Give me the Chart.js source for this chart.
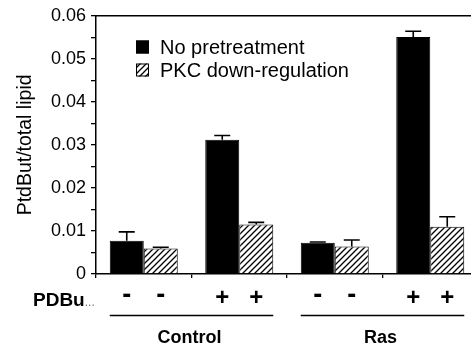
<!DOCTYPE html>
<html>
<head>
<meta charset="utf-8">
<script src="https://cdn.jsdelivr.net/npm/chart.js@4/dist/chart.umd.min.js"></script>
<style>
  html, body { margin: 0; padding: 0; background: #fff; overflow: hidden; }
  #wrap { width: 480px; height: 349px; }
</style>
</head>
<body>
<div id="wrap"><canvas id="lipidChart" width="480" height="349"></canvas></div>
<script>
// values
var groups = ['Control', 'Control', 'Ras', 'Ras'];
var pdbu = ['-', '+', '-', '+'];
var noPretreatment = [0.0077, 0.0312, 0.00725, 0.0551];
var noPretreatmentErr = [0.0021, 0.0010, 0.0002, 0.0013];
var pkcDown = [0.0059, 0.0115, 0.0064, 0.0110];
var pkcDownErr = [0.0003, 0.0005, 0.0015, 0.0023];
var yTicks = [0, 0.01, 0.02, 0.03, 0.04, 0.05, 0.06];

var FONT = "'Liberation Sans', Arial, Helvetica, sans-serif";

// diagonal hatch for the PKC bars
function makeHatch(){
    var c = document.createElement('canvas');
    c.width = 6; c.height = 6;
    var g = c.getContext('2d');
    g.fillStyle = '#fff';
    g.fillRect(0, 0, 6, 6);
    g.strokeStyle = '#000';
    g.lineWidth = 1.3;
    g.beginPath();
    g.moveTo(-1, 7); g.lineTo(7, -1);
    g.moveTo(-4, 4); g.lineTo(4, -4);
    g.moveTo(2, 10); g.lineTo(10, 2);
    g.stroke();
    return g.createPattern(c, 'repeat');
}
var hatch = makeHatch();

var labels = groups.map(function(g, i){ return g + ' ' + pdbu[i]; });

var errorBars = {
    id: 'errorBars',
    afterDatasetsDraw: function(chart){
        var ctx = chart.ctx;
        var y = chart.scales.y;
        var errs = [noPretreatmentErr, pkcDownErr];
        ctx.save();
        ctx.strokeStyle = '#000';
        ctx.lineWidth = 1.6;
        chart.data.datasets.forEach(function(ds, d){
            chart.getDatasetMeta(d).data.forEach(function(bar, i){
                var top = y.getPixelForValue(ds.data[i] + errs[d][i]);
                ctx.beginPath();
                ctx.moveTo(bar.x, bar.y);
                ctx.lineTo(bar.x, top);
                ctx.moveTo(bar.x - 8, top);
                ctx.lineTo(bar.x + 8, top);
                ctx.stroke();
            });
        });
        ctx.restore();
    }
};

var decorations = {
    id: 'decorations',
    afterDraw: function(chart){
        var ctx = chart.ctx;
        var area = chart.chartArea;
        ctx.save();
        // top frame line
        ctx.strokeStyle = '#000';
        ctx.lineWidth = 1.5;
        ctx.beginPath();
        ctx.moveTo(area.left, area.top);
        ctx.lineTo(chart.width, area.top);
        ctx.stroke();

        // legend
        var items = chart.data.datasets;
        var ly = [47, 70];
        items.forEach(function(ds, d){
            ctx.fillStyle = ds.backgroundColor;
            ctx.fillRect(136, ly[d] - 6.5, 13, 13);
            ctx.strokeStyle = '#000';
            ctx.lineWidth = 1;
            ctx.strokeRect(136.5, ly[d] - 6, 12, 12);
            ctx.fillStyle = '#000';
            ctx.font = '20px ' + FONT;
            ctx.textAlign = 'left';
            ctx.textBaseline = 'middle';
            ctx.fillText(ds.label, 160, ly[d] + 1);
        });

        // PDBu row
        ctx.font = 'bold 19px ' + FONT;
        ctx.textAlign = 'left';
        ctx.textBaseline = 'middle';
        ctx.fillStyle = '#000';
        ctx.fillText('PDBu', 33, 301);
        var w = ctx.measureText('PDBu').width;
        ctx.font = '12px ' + FONT;
        ctx.fillStyle = '#777';
        ctx.fillText('...', 33 + w, 303);

        ctx.fillStyle = '#000';
        ctx.textAlign = 'center';
        chart.data.datasets.forEach(function(ds, d){
            chart.getDatasetMeta(d).data.forEach(function(bar, i){
                ctx.font = (pdbu[i] === '-' ? 'bold 27px ' : 'bold 24px ') + FONT;
                ctx.fillText(pdbu[i], bar.x, pdbu[i] === '-' ? 296 : 298);
            });
        });

        // group underlines and names
        var m0 = chart.getDatasetMeta(0).data;
        var m1 = chart.getDatasetMeta(1).data;
        var seen = {};
        groups.forEach(function(g, i){
            if (seen[g]) return;
            var last = groups.lastIndexOf(g);
            var x0 = m0[i].x - m0[i].width / 2;
            var x1 = m1[last].x + m1[last].width / 2;
            seen[g] = true;
            ctx.lineWidth = 1.5;
            ctx.beginPath();
            ctx.moveTo(x0, 315.5);
            ctx.lineTo(x1, 315.5);
            ctx.stroke();
            ctx.font = 'bold 18px ' + FONT;
            ctx.fillText(g, (x0 + x1) / 2 - 2, 338);
        });
        ctx.restore();
    }
};

var chart = new Chart(document.getElementById('lipidChart'), {
    type: 'bar',
    data: {
        labels: labels,
        datasets: [
            {
                label: 'No pretreatment',
                data: noPretreatment,
                backgroundColor: '#000',
                borderColor: '#000',
                borderWidth: 1,
                barPercentage: 1,
                categoryPercentage: 0.712
            }, {
                label: 'PKC down-regulation',
                data: pkcDown,
                backgroundColor: hatch,
                borderColor: '#000',
                borderWidth: 1,
                barPercentage: 1,
                categoryPercentage: 0.712
            }
        ]
    },
    options: {
        responsive: false,
        animation: false,
        layout: { padding: { top: 15, right: 2, left: 0, bottom: 0 } },
        plugins: {
            legend: { display: false },
            tooltip: { enabled: false }
        },
        scales: {
            x: {
                offset: true,
                ticks: { display: false },
                grid: {
                    offset: true,
                    drawOnChartArea: false,
                    drawTicks: true,
                    tickLength: 4,
                    color: '#000',
                    lineWidth: 1.3
                },
                border: { display: true, color: '#000', width: 1.5 },
                afterFit: function(scale){ scale.height = 75; }
            },
            y: {
                min: 0,
                max: 0.06,
                afterBuildTicks: function(scale){
                    var t = [];
                    for (var k = 0; k <= 12; k++) t.push({ value: Math.round(k * 5) / 1000 });
                    scale.ticks = t;
                },
                ticks: {
                    autoSkip: false,
                    padding: 5,
                    color: '#000',
                    font: { family: FONT, size: 18 },
                    callback: function(v){
                        var r = Math.round(v * 100) / 100;
                        return yTicks.indexOf(r) >= 0 && Math.abs(v - r) < 1e-9 ? String(r) : '';
                    }
                },
                grid: {
                    drawOnChartArea: false,
                    drawTicks: true,
                    tickLength: 5,
                    color: '#000',
                    lineWidth: 1.3
                },
                border: { display: true, color: '#000', width: 1.5 },
                title: {
                    display: true,
                    text: 'PtdBut/total lipid',
                    color: '#000',
                    font: { family: FONT, size: 19.5 },
                    padding: { top: 14, bottom: 0 }
                },
                afterFit: function(scale){ scale.width = 96; }
            }
        }
    },
    plugins: [errorBars, decorations]
});
</script>
</body>
</html>
